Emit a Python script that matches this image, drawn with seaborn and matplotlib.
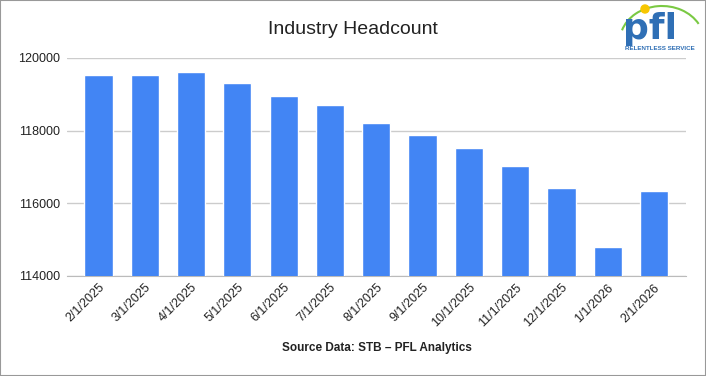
import matplotlib
matplotlib.use("Agg")
import matplotlib.pyplot as plt
import matplotlib.patches as mpatches
import seaborn as sns
import pandas as pd

# data
months = ['2/1/2025', '3/1/2025', '4/1/2025', '5/1/2025', '6/1/2025', '7/1/2025',
          '8/1/2025', '9/1/2025', '10/1/2025', '11/1/2025', '12/1/2025', '1/1/2026', '2/1/2026']
headcount = [119530, 119530, 119620, 119310, 118960, 118710,
             118220, 117890, 117530, 117030, 116420, 114790, 116350]
yticks = [114000, 116000, 118000, 120000]

df = pd.DataFrame({'Month': months, 'Headcount': headcount})

sns.set_style('white')
plt.rcParams['font.family'] = ['Liberation Sans', 'DejaVu Sans']

fig = plt.figure(figsize=(7.06, 3.76), dpi=100)
ax = fig.add_axes([67/706, 1 - 276/376, 619/706, 218/376])

sns.barplot(data=df, x='Month', y='Headcount', color='#4285F4', saturation=1,
            width=0.61, ax=ax, zorder=3)

ax.set_ylim(114000, 120000)
ax.set_xlim(-0.68, 12.69)
ax.set_yticks(yticks)
ax.set_yticklabels([str(v) for v in yticks], fontsize=9, color='#222222')
ax.yaxis.grid(True, color='#cccccc', linewidth=1, zorder=0)
ax.set_axisbelow(True)
for s in ['top', 'right', 'left']:
    ax.spines[s].set_visible(False)
ax.spines['bottom'].set_color('#bbbbbb')
ax.tick_params(axis='y', length=0, pad=5)
ax.tick_params(axis='x', length=0, pad=4)
ax.set_xticks(range(len(months)))
ax.set_xticklabels(months, rotation=45, ha='right', rotation_mode='anchor', fontsize=9, color='#222222')
ax.set_xlabel('')
ax.set_ylabel('')

fig.text(353/706, 1 - 30/376, 'Industry Headcount', ha='center', va='center', fontsize=14, color='#222222')
fig.text(377/706, 1 - 348/376, 'Source Data: STB \u2013 PFL Analytics', ha='center', va='center',
         fontsize=8.5, fontweight='bold', color='#222222')

# pfl logo approximation
logo = fig.add_axes([612/706, 1 - 55/376, 92/706, 52/376])
logo.set_xlim(0, 92)
logo.set_ylim(0, 52)
logo.axis('off')
logo.add_patch(mpatches.Arc((50, 14), 84, 70, theta1=25, theta2=165, color='#7ac943', lw=1.5))
logo.add_patch(mpatches.Circle((33, 46), 4, color='#f7c600'))
logo.text(38, 26, 'pfl', ha='center', va='center', fontsize=26, fontweight='bold', color='#2f6fb5',
          family='DejaVu Sans')
logo.text(48, 6, 'RELENTLESS SERVICE', ha='center', va='center', fontsize=4.5, fontweight='bold',
          color='#2f6fb5')

fig.patches.append(mpatches.Rectangle((0, 0), 1, 1, transform=fig.transFigure, fill=False,
                                      edgecolor='#999999', linewidth=1.5))

fig.savefig('out.png', dpi=100)
